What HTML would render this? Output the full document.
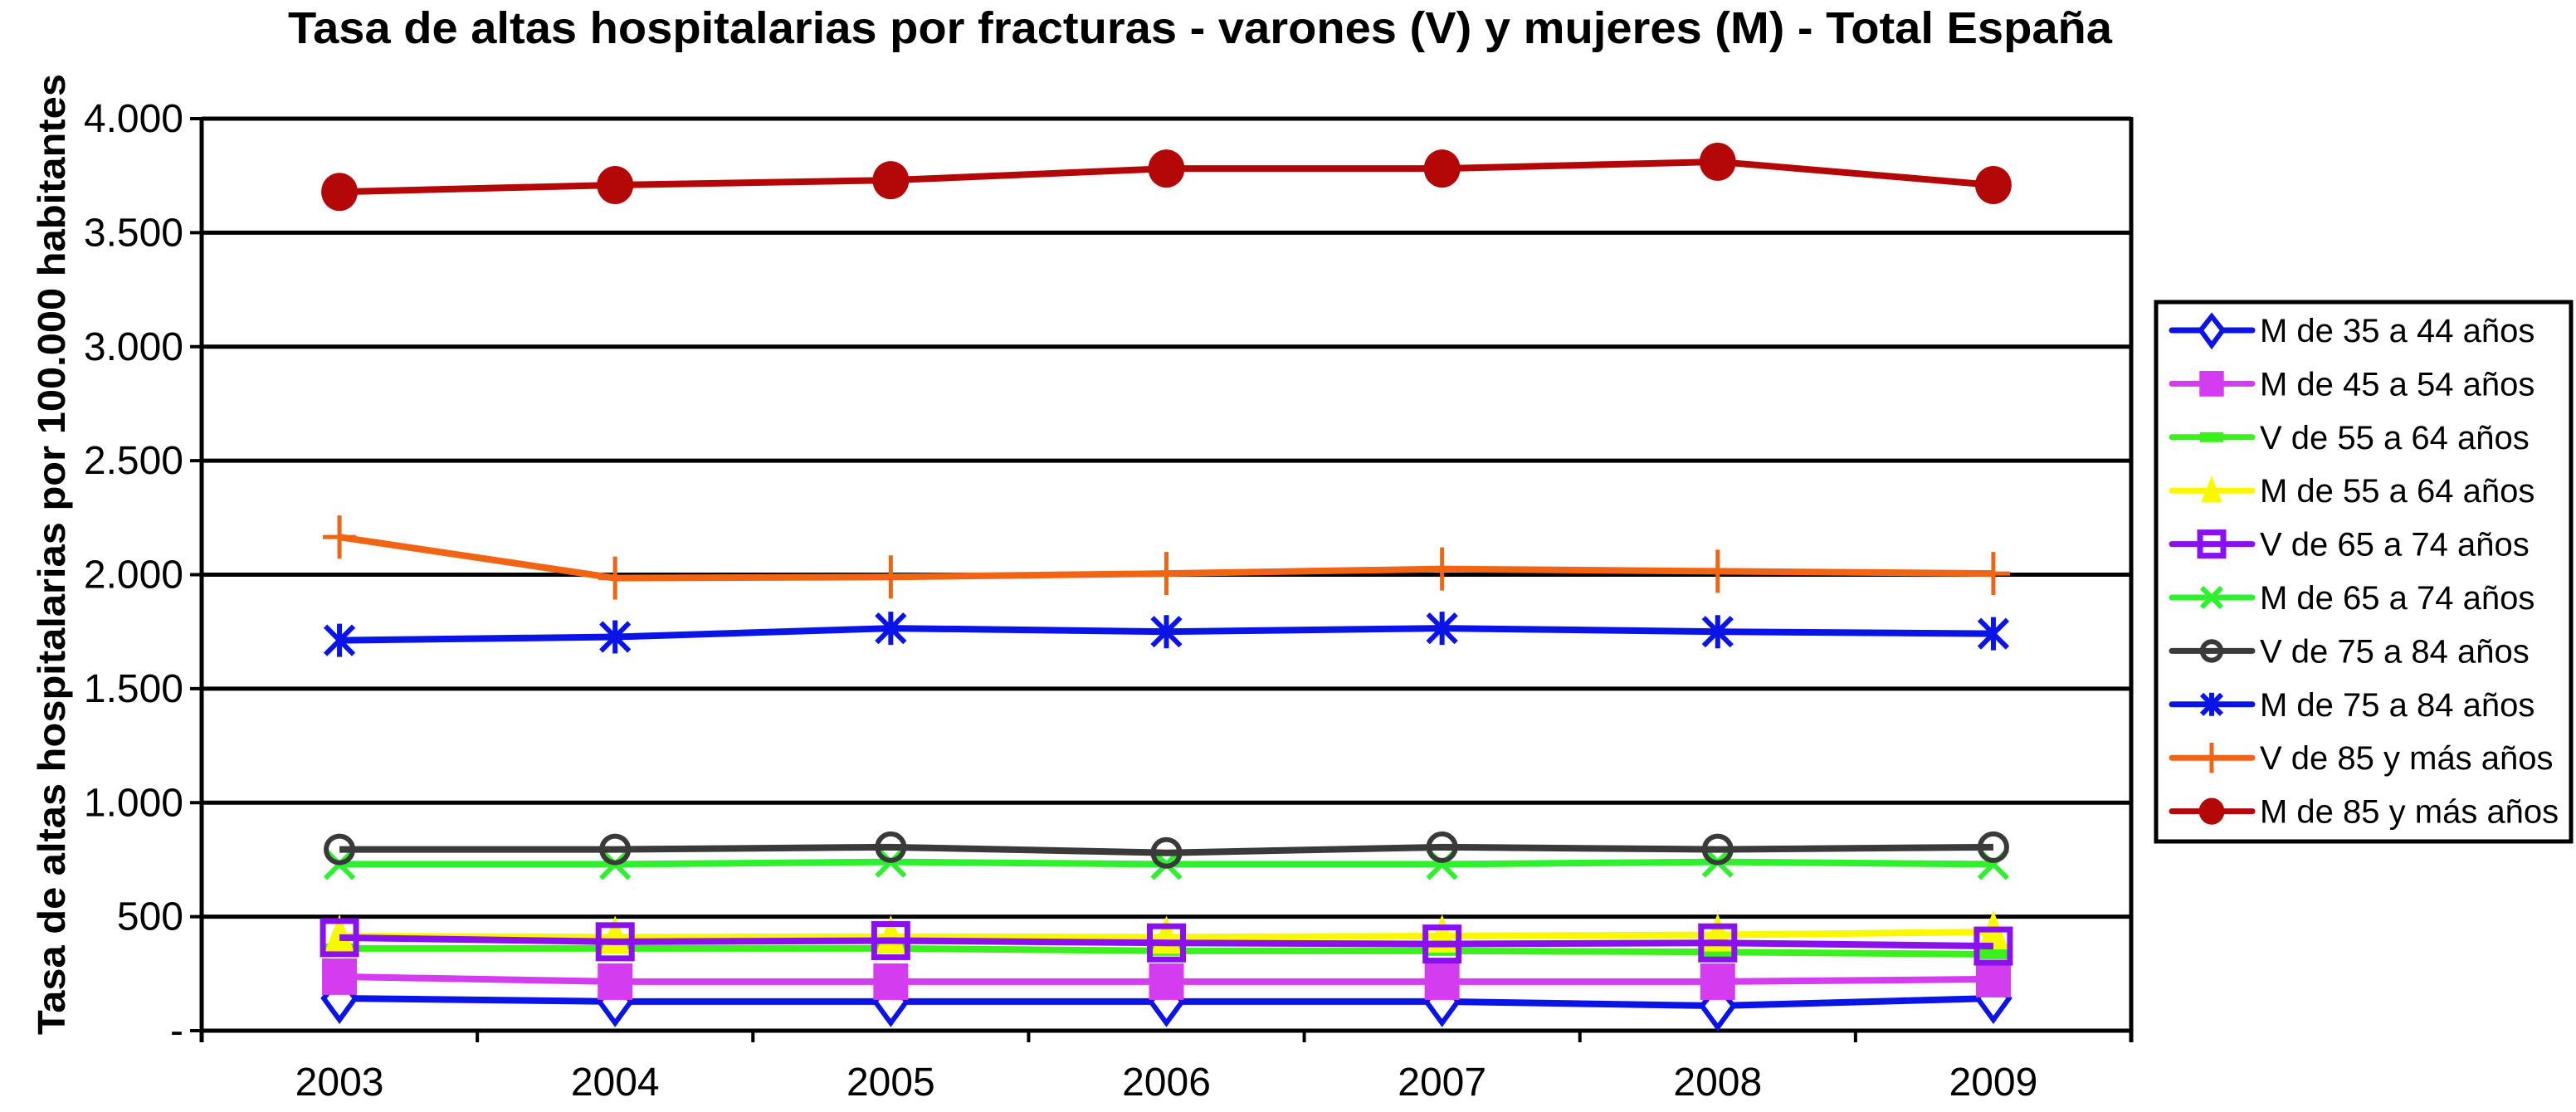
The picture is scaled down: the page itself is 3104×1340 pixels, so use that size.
<!DOCTYPE html>
<html><head><meta charset="utf-8"><style>
html,body{margin:0;padding:0;background:#fff;}
svg{display:block;font-family:"Liberation Sans",Arial,sans-serif;}
</style></head><body>
<svg id="chart" width="3104" height="1340" viewBox="0 0 3104 1340" xmlns="http://www.w3.org/2000/svg">
<text x="1446" y="52" text-anchor="middle" font-size="54" font-weight="bold" textLength="2198" lengthAdjust="spacingAndGlyphs">Tasa de altas hospitalarias por fracturas - varones  (V) y mujeres (M) - Total España</text>
<text transform="translate(78,668) rotate(-90)" text-anchor="middle" font-size="46" font-weight="bold" textLength="1158" lengthAdjust="spacingAndGlyphs">Tasa de altas hospitalarias por 100.000 habitantes</text>
<g id="grid"></g><g id="series"></g>
<g id="legend"></g>
</svg>
<script>
const categories = ["2003","2004","2005","2006","2007","2008","2009"];
const yTicks = [0,500,1000,1500,2000,2500,3000,3500,4000];
const yTickLabels = ["-","500","1.000","1.500","2.000","2.500","3.000","3.500","4.000"];
const seriesNames = ["M de 35 a 44 años","M de 45 a 54 años","V de 55 a 64 años","M de 55 a 64 años","V de 65 a 74 años","M de 65 a 74 años","V de 75 a 84 años","M de 75 a 84 años","V de 85 y más años","M de 85 y más años"];
const m3544 = [142,128,128,128,128,109,142];
const m4554 = [237,215,215,215,215,215,226];
const v5564 = [361,361,361,350,350,345,335];
const m5564 = [415,410,412,410,415,420,433];
const v6574 = [408,390,395,385,380,385,371];
const m6574 = [730,730,740,730,730,740,730];
const v7584 = [795,795,805,780,805,795,805];
const m7584 = [1712,1727,1765,1750,1765,1750,1741];
const v85 = [2165,1985,1990,2005,2025,2015,2005];
const m85 = [3679,3709,3730,3781,3781,3811,3709];
const seriesValues = [m3544,m4554,v5564,m5564,v6574,m6574,v7584,m7584,v85,m85];
const colors = ["#0a14e6","#d43cf0","#3cf01e","#f8f800","#8a10ee","#2ef02e","#3a3a3a","#0a14e6","#f06414","#b40808"];
const markers = ["diamond","square","dash","triangle","hsquare","x","circle","star","plus","dot"];

const NS="http://www.w3.org/2000/svg";
const L=243,R=2568,T=143,B=1242,MAX=4000;
const bw=(R-L)/categories.length;
const xPos=i=>L+bw*(i+0.5);
const yPos=v=>B-(v/MAX)*(B-T);
function mk(tag,attrs,parent){const e=document.createElementNS(NS,tag);for(const k in attrs)e.setAttribute(k,attrs[k]);parent.appendChild(e);return e;}
const grid=document.getElementById('grid');
yTicks.forEach((t,i)=>{
  const y=yPos(t);
  const g=mk('line',{x1:L,x2:R,y1:y,y2:y,stroke:'#000','stroke-width':5},grid);
  
  
  mk('line',{x1:L-14,x2:L,y1:y,y2:y,stroke:'#000','stroke-width':4},grid);
  const tx=mk('text',{x:221,y:y+16,'text-anchor':'end','font-size':48},grid);
  tx.textContent=yTickLabels[i];
  
  
});
mk('line',{x1:L,x2:L,y1:T,y2:B+14,stroke:'#000','stroke-width':5},grid);
mk('line',{x1:R,x2:R,y1:T-2,y2:B+14,stroke:'#000','stroke-width':5},grid);
for(let i=0;i<=categories.length;i++){mk('line',{x1:L+bw*i,x2:L+bw*i,y1:B,y2:B+14,stroke:'#000','stroke-width':4},grid);}
categories.forEach((c,i)=>{
  const tx=mk('text',{x:xPos(i),y:1320,'text-anchor':'middle','font-size':48},grid);
  tx.textContent=c;
  
  
});
function marker(type,x,y,c,p,s){
  s=s||1;
  switch(type){
   case 'diamond': return mk('path',{d:`M${x} ${y-24*s}L${x+19*s} ${y}L${x} ${y+26*s}L${x-19*s} ${y}Z`,fill:'#fff',stroke:c,'stroke-width':6},p);
   case 'square': return mk('rect',{x:x-21*s,y:y-22*s,width:42*s,height:44*s,fill:c},p);
   case 'dash': return mk('rect',{x:x-20*s,y:y-6,width:40*s,height:12,fill:c},p);
   case 'triangle': return mk('path',{d:`M${x} ${y-26*s}L${x+18*s} ${y+20*s}L${x-18*s} ${y+20*s}Z`,fill:c},p);
   case 'hsquare': return mk('rect',{x:x-20*s,y:y-20*s,width:40*s,height:40*s,fill:'none',stroke:c,'stroke-width':7},p);
   case 'x': return mk('path',{d:`M${x-17*s} ${y-17*s}L${x+17*s} ${y+17*s}M${x+17*s} ${y-17*s}L${x-17*s} ${y+17*s}`,stroke:c,'stroke-width':6,fill:'none'},p);
   case 'circle': return mk('circle',{cx:x,cy:y,r:16*s,fill:'none',stroke:c,'stroke-width':6},p);
   case 'star': return mk('path',{d:`M${x-17*s} ${y-17*s}L${x+17*s} ${y+17*s}M${x+17*s} ${y-17*s}L${x-17*s} ${y+17*s}M${x} ${y-20*s}L${x} ${y+20*s}`,stroke:c,'stroke-width':6,fill:'none'},p);
   case 'plus': return mk('path',{d:`M${x} ${y-26*s}L${x} ${y+26*s}M${x-20*s} ${y}L${x+20*s} ${y}`,stroke:c,'stroke-width':5,fill:'none'},p);
   case 'dot': return mk('ellipse',{cx:x,cy:y,rx:22*s,ry:23*s,fill:c},p);
  }
}
const sg=document.getElementById('series');
seriesValues.forEach((vals,si)=>{
  const g=mk('g',{},sg);
  
  
  const pts=vals.map((v,i)=>xPos(i)+','+yPos(v)).join(' ');
  const pl=mk('polyline',{points:pts,fill:'none',stroke:colors[si],'stroke-width':8,'stroke-linejoin':'round'},g);
  
  
  vals.forEach((v,i)=>{
    const m=marker(markers[si],xPos(i),yPos(v),colors[si],g);
    
    
  });
});
const lg=document.getElementById('legend');
mk('rect',{x:2598,y:364,width:500,height:650,fill:'#fff',stroke:'#000','stroke-width':5},lg);
seriesNames.forEach((n,i)=>{
  const y=398+i*64.4;
  const g=mk('g',{},lg);
  
  
  mk('line',{x1:2617,x2:2714,y1:y,y2:y,stroke:colors[i],'stroke-width':7,'stroke-linecap':'round'},g);
  marker(markers[i],2665,y,colors[i],g,0.7);
  const t=mk('text',{x:2723,y:y+14,'font-size':40},g);
  t.textContent=n;
});
</script>
</body></html>
